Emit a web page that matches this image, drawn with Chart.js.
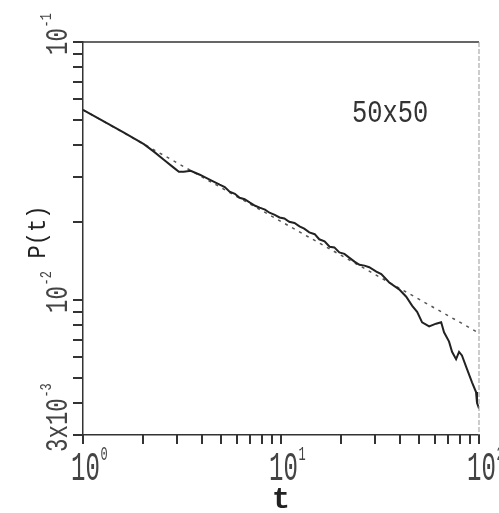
<!DOCTYPE html>
<html>
<head>
<meta charset="utf-8">
<script src="https://cdn.jsdelivr.net/npm/chart.js@4.4.0/dist/chart.umd.min.js"></script>
<style>
  body { margin: 0; background: #fff; }
  #wrap { width: 499px; height: 513px; }
</style>
</head>
<body>
<div id="wrap"><canvas id="chart" width="499" height="513"></canvas></div>
<script>
// measured curve P(t), 50x50 lattice
const tValues = [1, 1.28, 1.61, 2.03, 2.28, 2.56, 2.87, 3.05, 3.23, 3.5, 3.89, 4.36, 4.9, 5.2, 5.5, 5.85, 6.18, 6.55,
  6.94, 7.4, 7.8, 8.3, 8.75, 9.3, 9.83, 10.4, 11.0, 11.7, 12.4, 13.1, 13.9, 14.8, 15.6, 16.6, 17.6, 18.6, 19.7, 20.9,
  22.1, 23.5, 24.9, 26.4, 27.9, 30.3, 32.1, 35.2, 39.5, 42.9, 46.0, 48.7, 51.6, 56.0, 60.7, 64.4, 66.6, 70.6, 73.1,
  76.6, 79.3, 82.0, 87.0, 92.2, 96.6, 97.7, 100];
const pValues = [0.0546, 0.0491, 0.0445, 0.0402, 0.0376, 0.0350, 0.0326, 0.0314, 0.0314, 0.0317, 0.0306, 0.0293, 0.0280,
  0.0274, 0.0263, 0.0258, 0.0249, 0.0246, 0.0239, 0.0232, 0.0228, 0.0224, 0.0218, 0.0214, 0.0209, 0.0207, 0.0201,
  0.0199, 0.0193, 0.0189, 0.0183, 0.0180, 0.0172, 0.0169, 0.0161, 0.0160, 0.0153, 0.0151, 0.0146, 0.0141, 0.0137,
  0.0136, 0.0134, 0.0129, 0.0126, 0.0117, 0.0110, 0.0103, 0.0095, 0.0090, 0.0082, 0.0079, 0.0081, 0.0082, 0.0075,
  0.0069, 0.0063, 0.0059, 0.0063, 0.0061, 0.0054, 0.0048, 0.0044, 0.0040, 0.0038];
// power-law fit (dashed)
const fitT = [1, 100];
const fitP = [0.0546, 0.00745];

const xTickValues = [1, 2, 3, 4, 5, 6, 7, 8, 9, 10, 20, 30, 40, 50, 60, 70, 80, 90, 100];
const yTickValues = [0.003, 0.004, 0.005, 0.006, 0.007, 0.008, 0.009, 0.01, 0.02, 0.03, 0.04, 0.05, 0.06, 0.07, 0.08, 0.09, 0.1];
const xLabelValues = [1, 10, 100];
const xLabelTexts = [["10", "0"], ["10", "1"], ["10", "2"]];
const yLabelValues = [0.1, 0.01, 0.003];
const yLabelTexts = [["10", "-1"], ["10", "-2"], ["3x10", "-3"]];

const FONT = '"Liberation Mono", "DejaVu Sans Mono", monospace';

// text squeezed horizontally like the plotter font, with a raised exponent
function drawPow(ctx, base, sup, size, supSize, sx) {
  ctx.save();
  ctx.scale(sx, 1);
  ctx.font = size + "px " + FONT;
  ctx.textAlign = "left";
  ctx.textBaseline = "alphabetic";
  ctx.fillText(base, 0, 0);
  const w = ctx.measureText(base).width;
  ctx.font = supSize + "px " + FONT;
  ctx.fillText(sup, w + 1, -size * 0.5);
  ctx.restore();
}

const decor = {
  id: "decor",
  afterDraw(chart) {
    const ctx = chart.ctx;
    const xs = chart.scales.x, ys = chart.scales.y;
    const a = chart.chartArea;
    ctx.save();
    ctx.setLineDash([]);
    // tick marks, outside the frame
    ctx.fillStyle = "#333";
    xTickValues.forEach(v => {
      const px = Math.round(xs.getPixelForValue(v));
      ctx.fillRect(px - 1, a.bottom, 2, 9);
    });
    yTickValues.forEach(v => {
      const py = Math.round(ys.getPixelForValue(v));
      ctx.fillRect(a.left - 10, py - 1, 10, 2);
    });

    // top and right frame
    ctx.strokeStyle = "#333";
    ctx.lineWidth = 1.5;
    ctx.beginPath();
    ctx.moveTo(a.left, a.top);
    ctx.lineTo(a.right, a.top);
    ctx.stroke();
    ctx.strokeStyle = "#999";
    ctx.lineWidth = 1;
    ctx.setLineDash([5, 2]);
    ctx.beginPath();
    ctx.moveTo(a.right, a.top);
    ctx.lineTo(a.right, a.bottom);
    ctx.stroke();
    ctx.setLineDash([]);

    ctx.fillStyle = "#444";
    // x tick labels
    xLabelValues.forEach((v, i) => {
      const px = xs.getPixelForValue(v);
      ctx.save();
      ctx.translate(px - 12, 480);
      drawPow(ctx, xLabelTexts[i][0], xLabelTexts[i][1], 40, 20, 0.6);
      ctx.restore();
    });
    // y tick labels, rotated
    yLabelValues.forEach((v, i) => {
      const py = ys.getPixelForValue(v);
      ctx.save();
      ctx.translate(67, py + (i === 2 ? 17 : 13));
      ctx.rotate(-Math.PI / 2);
      drawPow(ctx, yLabelTexts[i][0], yLabelTexts[i][1], 32, 17, 0.7);
      ctx.restore();
    });

    // axis titles
    ctx.fillStyle = "#222";
    ctx.save();
    ctx.translate(45, 232);
    ctx.rotate(-Math.PI / 2);
    ctx.scale(0.85, 1);
    ctx.font = "26px " + FONT;
    ctx.textAlign = "center";
    ctx.fillText("P(t)", 0, 0);
    ctx.restore();

    ctx.font = "bold 30px " + FONT;
    ctx.textAlign = "center";
    ctx.fillText("t", (xs.left + xs.right) / 2, 508);

    // lattice size note
    ctx.fillStyle = "#333";
    ctx.save();
    ctx.translate(352, 122);
    ctx.scale(0.82, 1);
    ctx.font = "31px " + FONT;
    ctx.textAlign = "left";
    ctx.fillText("50x50", 0, 0);
    ctx.restore();
    ctx.restore();
  }
};

new Chart(document.getElementById("chart"), {
  type: "line",
  data: {
    datasets: [
      {
        data: tValues.map((t, i) => ({ x: t, y: pValues[i] })),
        borderColor: "#222",
        borderWidth: 2,
        pointRadius: 0,
        tension: 0,
        fill: false
      },
      {
        data: fitT.map((t, i) => ({ x: t, y: fitP[i] })),
        borderColor: "#555",
        borderWidth: 1.5,
        borderDash: [3, 5],
        pointRadius: 0,
        fill: false
      }
    ]
  },
  options: {
    responsive: false,
    animation: false,
    layout: { padding: { top: 42, right: 20, left: 0, bottom: 0 } },
    plugins: { legend: { display: false }, tooltip: { enabled: false } },
    scales: {
      x: {
        type: "logarithmic",
        min: 1,
        max: 100,
        afterFit: s => { s.height = 78; },
        ticks: { display: false },
        grid: { display: false },
        border: { display: true, color: "#333", width: 1.5 }
      },
      y: {
        type: "logarithmic",
        min: 0.003,
        max: 0.1,
        afterFit: s => { s.width = 83; },
        ticks: { display: false },
        grid: { display: false },
        border: { display: true, color: "#333", width: 1.5 }
      }
    }
  },
  plugins: [decor]
});
</script>
</body>
</html>
